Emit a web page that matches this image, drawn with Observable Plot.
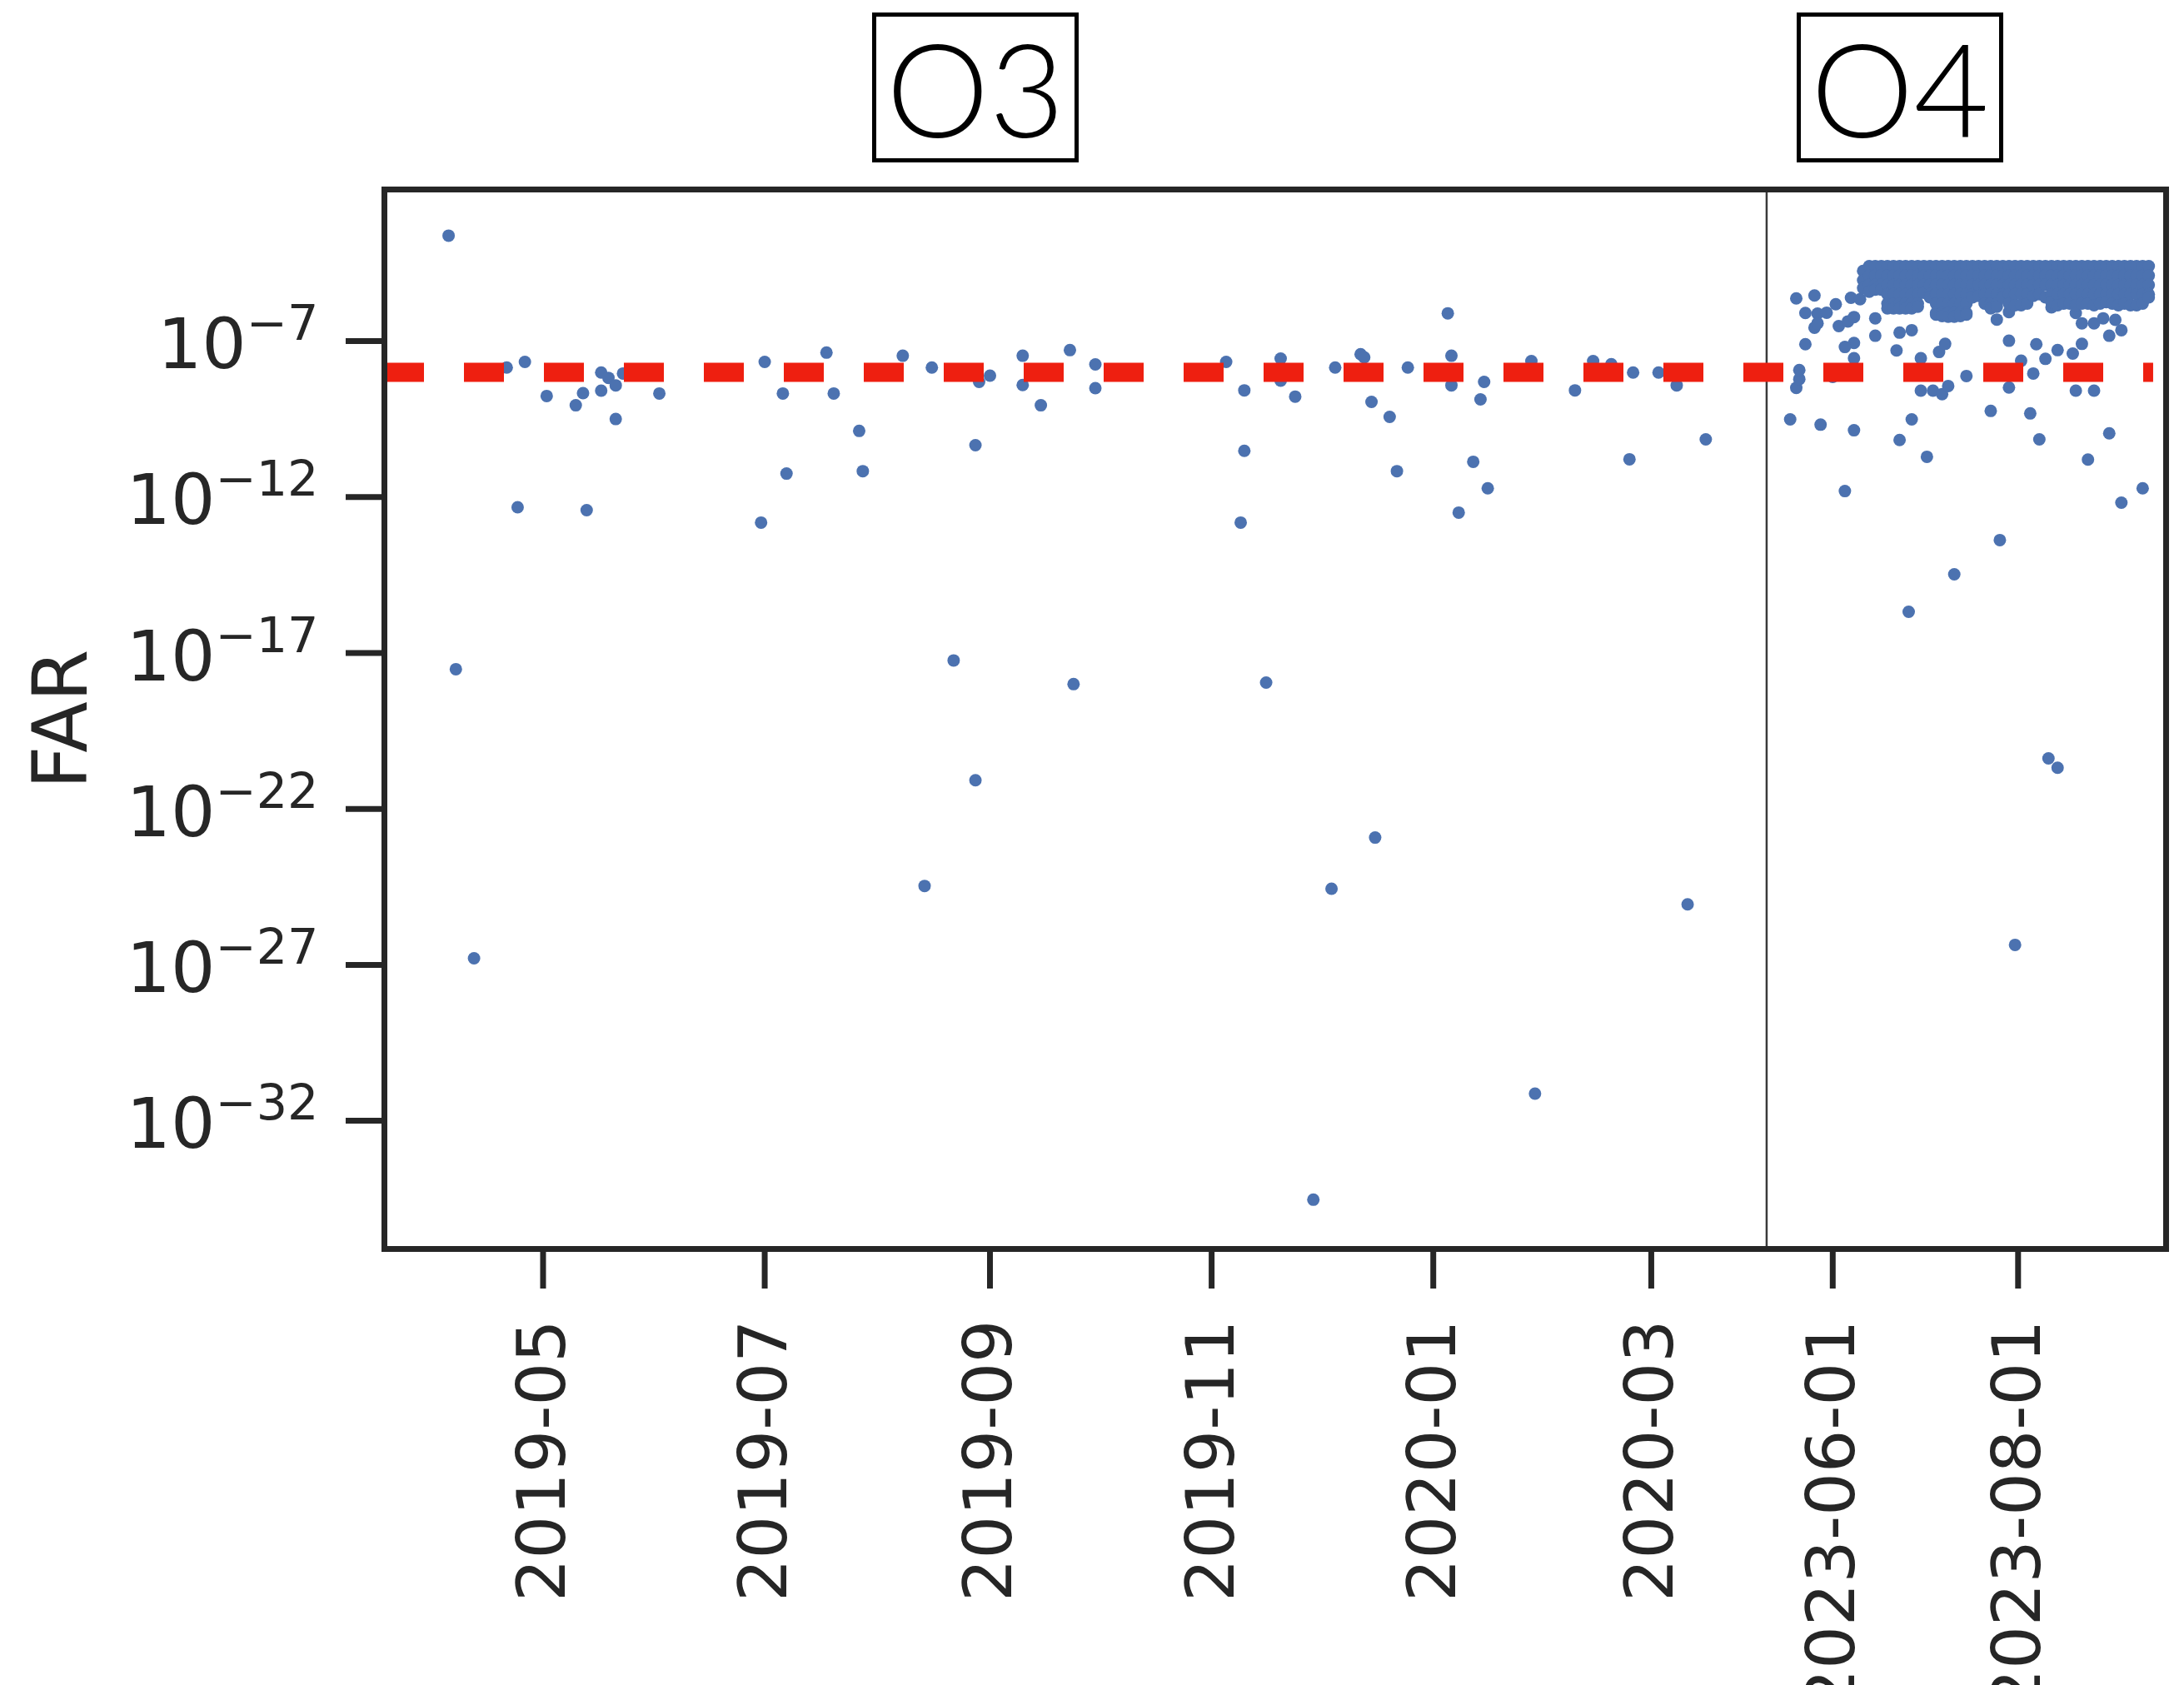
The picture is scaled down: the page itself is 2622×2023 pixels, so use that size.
<!DOCTYPE html>
<html>
<head>
<meta charset="utf-8">
<script src="https://cdn.jsdelivr.net/npm/d3@7"></script>
<script src="https://cdn.jsdelivr.net/npm/@observablehq/plot@0.6"></script>
<style>
html, body { margin: 0; padding: 0; background: #fff; }
#wrap { position: relative; width: 2622px; height: 2023px; overflow: hidden; font-family: "DejaVu Sans", sans-serif; }
#chart { position: absolute; left: 0; top: 0; }
.run { position: absolute; top: 15px; width: 248px; height: 180px; box-sizing: border-box; border: 5.5px solid #000;
       display: flex; align-items: center; justify-content: center; font-size: 156px; line-height: 1; color: #000;
       font-family: "Lato", "DejaVu Sans", sans-serif; font-weight: 300; background: #fff; }
#chart svg [aria-label="y-axis label"] text { font-size: 90px; }
#chart svg [aria-label="x-axis tick label"] text { font-size: 81px; }
</style>
</head>
<body>
<div id="wrap">
  <div id="chart"></div>
</div>
<script>
// ---------- data ----------
const runLabels = ["O3", "O4"];

// O3 triggers (date, log10 FAR)
const o3Dates = ["2019-04-05","2019-04-07","2019-04-12","2019-04-21","2019-04-24","2019-04-26","2019-05-02","2019-05-10","2019-05-12","2019-05-13",
  "2019-05-17","2019-05-17","2019-05-19","2019-05-21","2019-05-23","2019-05-21","2019-06-02","2019-06-30","2019-07-01","2019-07-06",
  "2019-07-07","2019-07-18","2019-07-20","2019-07-27","2019-07-28","2019-08-08","2019-08-14","2019-08-16","2019-08-22","2019-08-28",
  "2019-08-28","2019-08-29","2019-09-01","2019-09-10","2019-09-10","2019-09-15","2019-09-23","2019-09-24","2019-09-30","2019-09-30",
  "2019-11-05","2019-11-09","2019-11-10","2019-11-10","2019-11-16","2019-11-20","2019-11-20","2019-11-24","2019-11-29","2019-12-04",
  "2019-12-05","2019-12-12","2019-12-13","2019-12-15","2019-12-16","2019-12-20","2019-12-22","2019-12-25","2020-01-05","2020-01-06",
  "2020-01-06","2020-01-08","2020-01-12","2020-01-14","2020-01-15","2020-01-16","2020-01-28","2020-01-29","2020-02-09","2020-02-14",
  "2020-02-19","2020-02-24","2020-02-25","2020-03-03","2020-03-08","2020-03-11","2020-03-16"];
const o3LogFar = [-3.62,-17.52,-26.79,-7.85,-12.33,-7.67,-8.76,-9.06,-8.67,-12.42,
  -8.59,-8.01,-8.18,-8.42,-8.04,-9.50,-8.68,-12.82,-7.67,-8.68,
  -11.25,-7.37,-8.68,-9.88,-11.17,-7.47,-24.47,-7.85,-17.24,-10.34,
  -21.08,-8.31,-8.11,-7.47,-8.41,-9.06,-7.29,-18.0,-7.75,-8.51,
  -7.67,-12.82,-8.58,-10.52,-17.95,-7.56,-8.27,-8.78,-34.53,-24.56,
  -7.85,-7.42,-7.52,-8.95,-22.92,-9.43,-11.17,-7.85,-6.11,-7.47,
  -8.42,-12.50,-10.87,-8.87,-8.31,-11.72,-7.64,-31.13,-8.58,-7.64,
  -7.74,-10.79,-8.01,-8.01,-8.42,-25.06,-10.15];

// O4 scattered triggers (date, log10 FAR)
const o4Dates = ["2023-05-18","2023-05-20","2023-05-21","2023-05-21","2023-05-20","2023-05-26","2023-05-23","2023-05-27","2023-05-30","2023-06-02",
  "2023-05-26","2023-05-27","2023-05-23","2023-06-03","2023-06-06","2023-06-08","2023-06-07","2023-06-10","2023-06-08","2023-06-05",
  "2023-06-08","2023-05-28","2023-06-08","2023-06-05","2023-06-15","2023-06-15","2023-06-23","2023-06-27","2023-06-22","2023-06-30",
  "2023-07-06","2023-07-08","2023-06-30","2023-07-04","2023-07-07","2023-07-09","2023-06-27","2023-06-23","2023-07-02","2023-06-26",
  "2023-07-11","2023-07-15","2023-07-23","2023-07-26","2023-07-25","2023-07-29","2023-07-29","2023-07-29","2023-08-02","2023-08-06",
  "2023-08-07","2023-08-10","2023-08-05","2023-08-08","2023-08-12","2023-08-14","2023-08-19","2023-08-22","2023-08-20","2023-08-22",
  "2023-08-26","2023-08-29","2023-08-20","2023-08-26","2023-08-24","2023-08-31","2023-08-31","2023-09-02","2023-09-04","2023-09-04",
  "2023-09-11","2023-07-31","2023-08-11","2023-08-14","2023-06-01"];
const o4LogFar = [-9.51,-8.50,-8.22,-7.93,-5.63,-5.54,-6.10,-6.12,-6.09,-5.82,
  -6.57,-6.43,-7.10,-6.52,-6.37,-6.23,-5.61,-5.66,-7.06,-7.19,
  -7.55,-9.68,-9.86,-11.81,-6.27,-6.83,-6.73,-6.65,-7.30,-7.55,
  -7.35,-7.09,-8.59,-8.59,-8.70,-8.44,-9.51,-10.17,-10.71,-15.68,
  -14.48,-8.12,-9.24,-13.38,-6.31,-6.07,-6.99,-8.49,-7.63,-8.04,
  -7.10,-7.57,-9.32,-10.15,-5.92,-7.29,-7.40,-7.09,-6.10,-6.43,
  -6.43,-6.27,-8.59,-8.59,-10.80,-6.83,-9.96,-6.32,-6.65,-12.18,
  -11.72,-26.36,-20.38,-20.68,-8.15];

// O4 dense band of triggers just under the FAR ceiling (one column of values per date)
const o4BandDates = ["2023-06-11","2023-06-13","2023-06-15","2023-06-17","2023-06-19","2023-06-21","2023-06-23","2023-06-25","2023-06-27","2023-06-29",
  "2023-07-01","2023-07-03","2023-07-05","2023-07-07","2023-07-09","2023-07-11","2023-07-13","2023-07-15","2023-07-17","2023-07-19",
  "2023-07-21","2023-07-23","2023-07-25","2023-07-27","2023-07-29","2023-07-31","2023-08-02","2023-08-04","2023-08-06","2023-08-08",
  "2023-08-10","2023-08-12","2023-08-14","2023-08-16","2023-08-18","2023-08-20","2023-08-22","2023-08-24","2023-08-26","2023-08-28",
  "2023-08-30","2023-09-01","2023-09-03","2023-09-05","2023-09-07","2023-09-09","2023-09-11","2023-09-13"];
const o4BandLogFar = [
  [-4.75,-5.05,-5.3],
  [-4.6,-4.9,-5.2,-5.42],
  [-4.6,-4.9,-5.2,-5.35],
  [-4.6,-4.9,-5.2,-5.35],
  [-4.6,-4.9,-5.2,-5.5,-5.8,-5.95],
  [-4.6,-4.9,-5.2,-5.5,-5.8,-5.95],
  [-4.6,-4.9,-5.2,-5.5,-5.8,-5.95],
  [-4.6,-4.9,-5.2,-5.5,-5.8,-5.95],
  [-4.6,-4.9,-5.2,-5.5,-5.8,-5.95],
  [-4.6,-4.9,-5.2,-5.5,-5.8,-5.9],
  [-4.6,-4.9,-5.2,-5.45],
  [-4.6,-4.9,-5.2,-5.5,-5.6],
  [-4.6,-4.9,-5.2,-5.5,-5.8,-6.1,-6.15],
  [-4.6,-4.9,-5.2,-5.5,-5.8,-6.1,-6.2],
  [-4.6,-4.9,-5.2,-5.5,-5.8,-6.1,-6.22],
  [-4.6,-4.9,-5.2,-5.5,-5.8,-6.1,-6.22],
  [-4.6,-4.9,-5.2,-5.5,-5.8,-6.1,-6.2],
  [-4.6,-4.9,-5.2,-5.5,-5.8,-6.1,-6.15],
  [-4.6,-4.9,-5.2,-5.5,-5.6],
  [-4.6,-4.9,-5.2,-5.55],
  [-4.6,-4.9,-5.2,-5.5,-5.8],
  [-4.6,-4.9,-5.2,-5.5,-5.8,-5.95],
  [-4.6,-4.9,-5.2,-5.5,-5.8,-5.9],
  [-4.6,-4.9,-5.2,-5.5,-5.6],
  [-4.6,-4.9,-5.2,-5.5,-5.8],
  [-4.6,-4.9,-5.2,-5.5,-5.85],
  [-4.6,-4.9,-5.2,-5.5,-5.85],
  [-4.6,-4.9,-5.2,-5.5,-5.8],
  [-4.6,-4.9,-5.2,-5.55],
  [-4.6,-4.9,-5.2,-5.5],
  [-4.6,-4.9,-5.2,-5.6],
  [-4.6,-4.9,-5.2,-5.5,-5.75],
  [-4.6,-4.9,-5.2,-5.5,-5.85],
  [-4.6,-4.9,-5.2,-5.5,-5.8],
  [-4.6,-4.9,-5.2,-5.5,-5.8],
  [-4.6,-4.9,-5.2,-5.5,-5.85],
  [-4.6,-4.9,-5.2,-5.5,-5.8],
  [-4.6,-4.9,-5.2,-5.5,-5.8],
  [-4.6,-4.9,-5.2,-5.5,-5.85],
  [-4.6,-4.9,-5.2,-5.5,-5.8],
  [-4.6,-4.9,-5.2,-5.5,-5.75],
  [-4.6,-4.9,-5.2,-5.5,-5.8],
  [-4.6,-4.9,-5.2,-5.5,-5.85],
  [-4.6,-4.9,-5.2,-5.5,-5.8],
  [-4.6,-4.9,-5.2,-5.5,-5.85],
  [-4.6,-4.9,-5.2,-5.5,-5.85],
  [-4.6,-4.9,-5.2,-5.5,-5.8],
  [-4.6,-4.9,-5.2,-5.5,-5.6]
];

const farThreshold = 1e-8;
const thresholdEnd = "2023-09-14T14:00Z";
const xTickDates = ["2019-05-01","2019-07-01","2019-09-01","2019-11-01","2020-01-01","2020-03-01","2023-06-01","2023-08-01"];
const yTickValues = [1e-7, 1e-12, 1e-17, 1e-22, 1e-27, 1e-32];
const o3Window = ["2019-03-18T08:00Z", "2020-04-01T18:00Z"];
const o4Window = ["2023-05-10T06:00Z", "2023-09-18T17:00Z"];
const yLogDomain = [-36.11, -2.14];

// ---------- build table ----------
const points = [];
o3Dates.forEach((d, i) => points.push({date: new Date(d), far: 10 ** o3LogFar[i]}));
o4Dates.forEach((d, i) => points.push({date: new Date(d), far: 10 ** o4LogFar[i]}));
o4BandDates.forEach((d, i) => o4BandLogFar[i].forEach(v => points.push({date: new Date(d), far: 10 ** v})));

// ---------- layout ----------
const W = 2622, H = 2023;
const mL = 461, mR = 22, mT = 227, mB = 524;
const o3Share = 0.7758; // fraction of the frame width given to O3
const xBreak = mL + o3Share * (W - mL - mR);
const xDomain = [...o3Window, ...o4Window].map(s => new Date(s));
const xRange = [mL, xBreak, xBreak, W - mR];

const supMap = {"-": "⁻", "0": "⁰", "1": "¹", "2": "²", "3": "³", "4": "⁴", "5": "⁵", "6": "⁶", "7": "⁷", "8": "⁸", "9": "⁹"};
const unSup = {"⁻": "−", "⁰": "0", "¹": "1", "²": "2", "³": "3", "⁴": "4", "⁵": "5", "⁶": "6", "⁷": "7", "⁸": "8", "⁹": "9"};
const fmtPow = d => "10" + String(Math.round(Math.log10(d))).split("").map(c => supMap[c]).join("");
const fmtMonth = d3.utcFormat("%Y-%m");
const fmtDay = d3.utcFormat("%Y-%m-%d");
const fmtX = d => d.getUTCFullYear() >= 2023 ? fmtDay(d) : fmtMonth(d);

const ink = "#262626";

const chart = Plot.plot({
  width: W,
  height: H,
  marginLeft: mL, marginRight: mR, marginTop: mT, marginBottom: mB,
  style: {fontFamily: "DejaVu Sans, sans-serif", fontSize: "84px", color: ink, background: "#fff", overflow: "visible"},
  x: {type: "utc", domain: xDomain, range: xRange},
  y: {type: "log", domain: yLogDomain.map(v => 10 ** v)},
  marks: [
    Plot.dot(points, {x: "date", y: "far", r: 7.5, fill: "#4c72b0", stroke: "none"}),
    Plot.ruleX([new Date(o3Window[1])], {stroke: "#3a3a3a", strokeWidth: 2.5}),
    Plot.ruleY([{far: farThreshold, start: new Date(o3Window[0]), end: new Date(thresholdEnd)}],
      {y: "far", x1: "start", x2: "end", stroke: "#ee1f10", strokeWidth: 23, strokeDasharray: "48,48"}),
    Plot.frame({stroke: ink, strokeWidth: 7}),
    Plot.axisX({ticks: xTickDates.map(d => new Date(d)), tickFormat: fmtX, tickRotate: -90,
      tickSize: 48, tickPadding: 37, strokeWidth: 7, label: null}),
    Plot.axisY({ticks: yTickValues, tickFormat: fmtPow, tickSize: 46, tickPadding: 33, strokeWidth: 7,
      label: "FAR", labelArrow: "none", labelAnchor: "center", labelOffset: 421})
  ]
});
document.getElementById("chart").appendChild(chart);

// drop any direction arrow from the axis label
d3.select(chart).selectAll('[aria-label="y-axis label"] text').each(function () {
  this.textContent = this.textContent.replace(/\s*[↑↓→←]\s*/g, "");
});

// mathtext-like exponents for the y tick labels
const NS = "http://www.w3.org/2000/svg";
d3.select(chart).selectAll('[aria-label="y-axis tick label"] text').each(function () {
  const t = this.textContent;
  if (!t.startsWith("10")) return;
  const exp = t.slice(2).split("").map(c => unSup[c] || c).join("");
  while (this.firstChild) this.removeChild(this.firstChild);
  const base = document.createElementNS(NS, "tspan");
  base.textContent = "10";
  base.setAttribute("dy", "0.07em");
  const sup = document.createElementNS(NS, "tspan");
  sup.textContent = exp;
  sup.setAttribute("font-size", "70%");
  sup.setAttribute("dy", "-0.58em");
  this.appendChild(base);
  this.appendChild(sup);
});

// run labels in the top margin
const wrap = document.getElementById("wrap");
const runLefts = [1047, 2157];
runLabels.forEach((lab, i) => {
  const div = document.createElement("div");
  div.className = "run";
  div.style.left = runLefts[i] + "px";
  div.textContent = lab;
  wrap.appendChild(div);
});
</script>
</body>
</html>
